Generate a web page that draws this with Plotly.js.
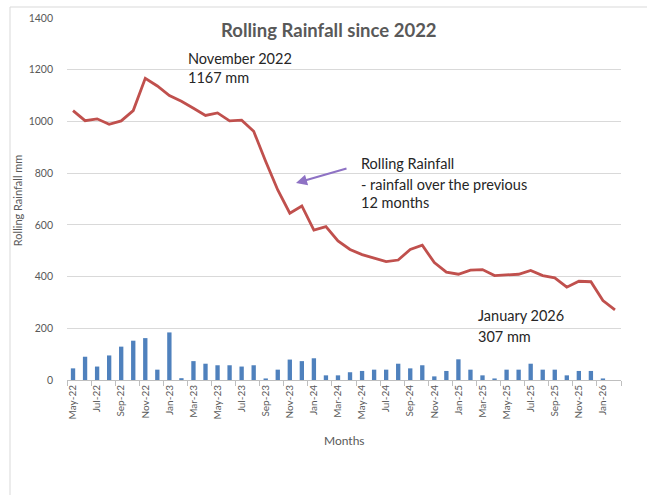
<!DOCTYPE html>
<html>
<head>
<meta charset="utf-8">
<script src="https://cdn.plot.ly/plotly-3.0.1.min.js"></script>
<style>html,body{margin:0;padding:0;background:#fff;}#chart{width:647px;height:495px;}</style>
</head>
<body>
<div id="chart"></div>
<script>
const months = [
  "May-22","Jun-22","Jul-22","Aug-22","Sep-22","Oct-22","Nov-22","Dec-22",
  "Jan-23","Feb-23","Mar-23","Apr-23","May-23","Jun-23","Jul-23","Aug-23","Sep-23","Oct-23","Nov-23","Dec-23",
  "Jan-24","Feb-24","Mar-24","Apr-24","May-24","Jun-24","Jul-24","Aug-24","Sep-24","Oct-24","Nov-24","Dec-24",
  "Jan-25","Feb-25","Mar-25","Apr-25","May-25","Jun-25","Jul-25","Aug-25","Sep-25","Oct-25","Nov-25","Dec-25",
  "Jan-26","Feb-26"
];
const monthlyRainfall = [
  45, 90, 52, 95, 129, 152, 162, 40,
  184, 7, 73, 63, 57, 57, 52, 57, 6, 40, 79, 73,
  84, 18, 18, 30, 35, 40, 40, 63, 45, 57, 14, 35,
  80, 40, 18, 6, 40, 40, 63, 40, 40, 18, 35, 35,
  6, null
];
const rollingRainfall = [
  1042, 1003, 1010, 989, 1002, 1042, 1167, 1137,
  1100, 1078, 1051, 1023, 1033, 1002, 1005, 962, 845, 735, 645, 673,
  580, 593, 538, 505, 485, 473, 458, 464, 505, 521, 454, 417,
  409, 425, 427, 404, 407, 409, 424, 404, 395, 359, 382, 380,
  307, 271
];
const yTicks = [0, 200, 400, 600, 800, 1000, 1200, 1400];

const gray = "#595959";
const font = "Lato, 'Open Sans', sans-serif";
const noteFont = {size: 14.5, color: "#262626", family: font};

const traces = [
  {
    type: "bar", x: months, y: monthlyRainfall,
    marker: {color: "#4F81BD"}, width: 0.36, hoverinfo: "skip"
  },
  {
    type: "scatter", mode: "lines", x: months, y: rollingRainfall,
    line: {color: "#C0504D", width: 2.8}, hoverinfo: "skip"
  }
];

const layout = {
  width: 647, height: 495,
  margin: {l: 67, r: 26, t: 18, b: 115},
  paper_bgcolor: "#fff", plot_bgcolor: "#fff",
  showlegend: false,
  font: {family: font, color: gray, size: 10},
  xaxis: {
    type: "category", range: [-0.5, months.length - 0.5],
    tickmode: "linear", tick0: 0, dtick: 2, tickson: "boundaries",
    ticks: "outside", ticklen: 5, tickcolor: "#BFBFBF",
    tickangle: -90, tickfont: {size: 10, color: gray, family: font},
    showgrid: false, showline: true, linecolor: "#BFBFBF", linewidth: 1,
    zeroline: false, fixedrange: true
  },
  yaxis: {
    range: [0, 1400], tickvals: yTicks, ticktext: yTicks.map(String),
    showgrid: true, gridcolor: "#D9D9D9", gridwidth: 1,
    zeroline: false, showline: false, ticks: "",
    ticklabelstandoff: 13,
    tickfont: {size: 10.5, color: gray, family: font}, fixedrange: true
  },
  annotations: [
    {xref: "paper", yref: "paper", x: (329 - 67) / 554, y: 1.0, yshift: -12, xanchor: "center", yanchor: "middle",
     text: "<b>Rolling Rainfall since 2022</b>", showarrow: false,
     font: {size: 18.5, color: gray, family: font}},
    {xref: "paper", yref: "paper", x: 0.5, y: -0.1685, xanchor: "center", yanchor: "middle",
     text: "Months", showarrow: false, font: {size: 12, color: gray, family: font}},
    {xref: "paper", yref: "paper", x: -0.09, y: 0.497, xanchor: "center", yanchor: "middle",
     text: "Rolling Rainfall mm", textangle: -90, showarrow: false,
     font: {size: 11, color: gray, family: font}},
    {xref: "paper", yref: "paper", x: 0.2148, y: 0.8895, xanchor: "left", yanchor: "middle",
     text: "November 2022", showarrow: false, font: noteFont},
    {xref: "paper", yref: "paper", x: 0.2148, y: 0.837, xanchor: "left", yanchor: "middle",
     text: "1167 mm", showarrow: false, font: noteFont},
    {xref: "paper", yref: "paper", x: 0.527, y: 0.5967, xanchor: "left", yanchor: "middle",
     text: "Rolling Rainfall", showarrow: false, font: noteFont},
    {xref: "paper", yref: "paper", x: 0.527, y: 0.5414, xanchor: "left", yanchor: "middle",
     text: "- rainfall over the previous", showarrow: false, font: noteFont},
    {xref: "paper", yref: "paper", x: 0.527, y: 0.4917, xanchor: "left", yanchor: "middle",
     text: "12 months", showarrow: false, font: noteFont},
    {xref: "paper", yref: "paper", x: 0.738, y: 0.1768, xanchor: "left", yanchor: "middle",
     text: "January 2026", showarrow: false, font: noteFont},
    {xref: "paper", yref: "paper", x: 0.738, y: 0.1215, xanchor: "left", yanchor: "middle",
     text: "307 mm", showarrow: false, font: noteFont},
    {xref: "paper", yref: "paper", x: (296 - 67) / 554, y: (380 - 183) / 362,
     ax: 52, ay: -15, text: "", showarrow: true, arrowhead: 2, arrowsize: 1.1,
     arrowwidth: 2, arrowcolor: "#8E72C4", standoff: 0}
  ],
  shapes: [
    {type: "line", xref: "paper", yref: "paper", x0: (10 - 67) / 554, x1: (10 - 67) / 554,
     y0: (380 - 7) / 362, y1: (380 - 500) / 362, line: {color: "#D9D9D9", width: 1}},
    {type: "line", xref: "paper", yref: "paper", x0: (10 - 67) / 554, x1: (650 - 67) / 554,
     y0: (380 - 7) / 362, y1: (380 - 7) / 362, line: {color: "#D9D9D9", width: 1}}
  ]
};

Plotly.newPlot("chart", traces, layout, {displayModeBar: false, staticPlot: true});
</script>
</body>
</html>
